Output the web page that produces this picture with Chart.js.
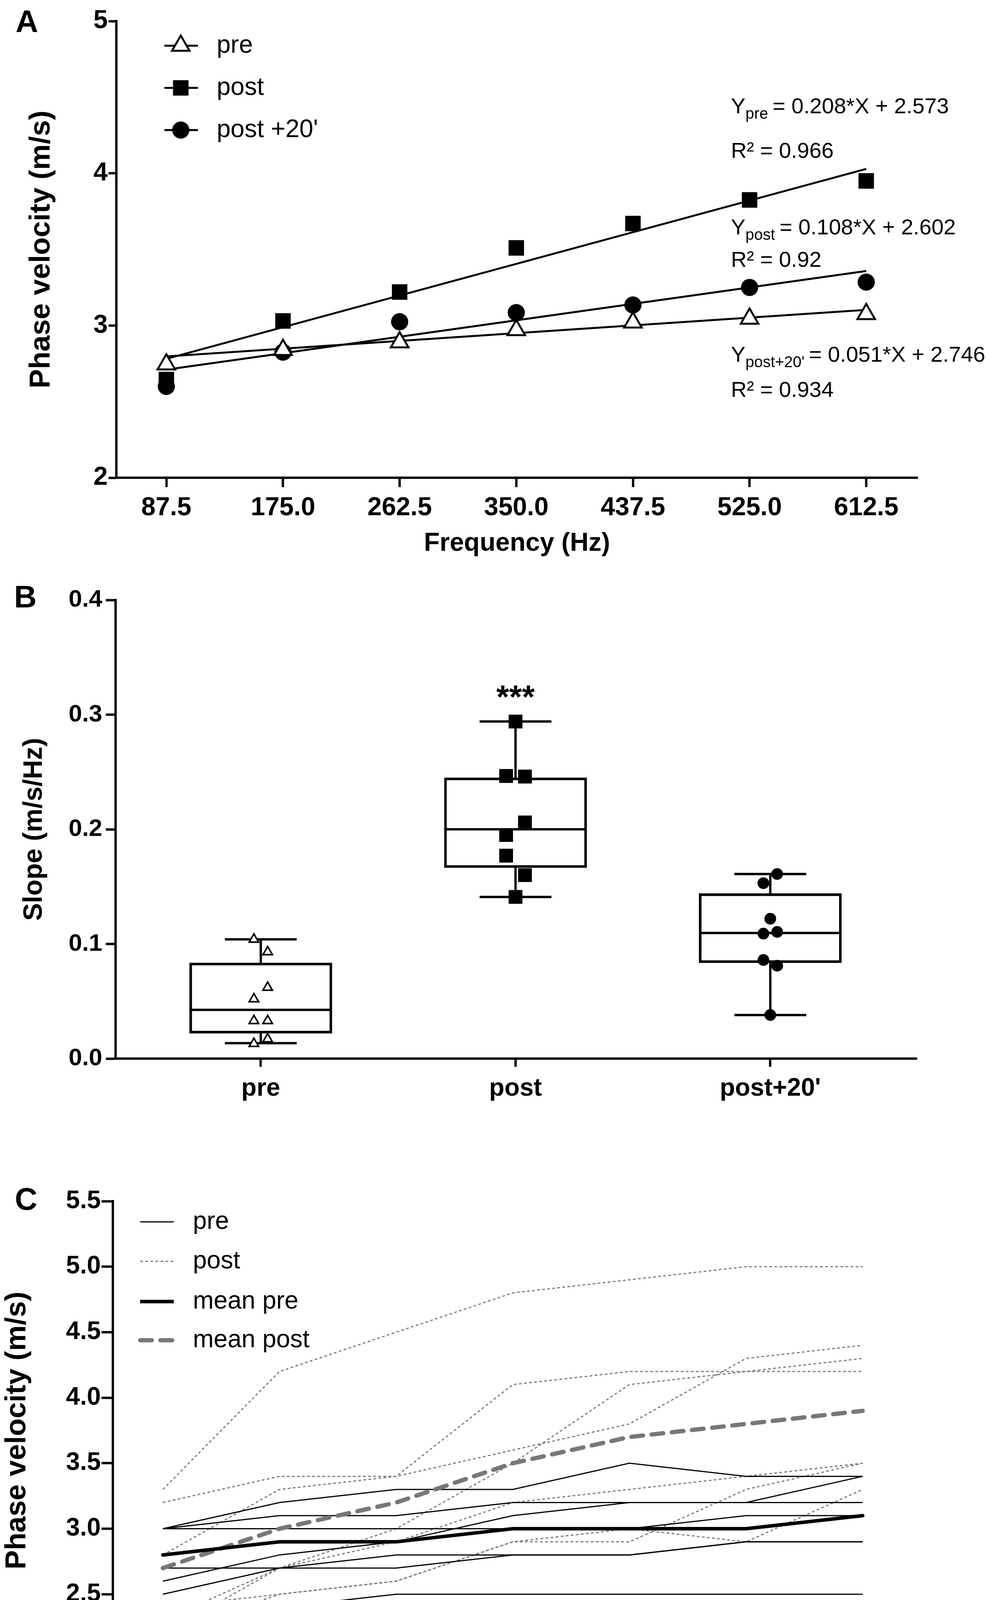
<!DOCTYPE html>
<html>
<head>
<meta charset="utf-8">
<script src="https://cdn.jsdelivr.net/npm/chart.js@4.4.1/dist/chart.umd.min.js"></script>
<style>
  body { margin: 0; background: #fff; width: 2533px; height: 4459px; position: relative; overflow: hidden; }
  canvas { position: absolute; left: 0; }
</style>
</head>
<body>
<canvas id="chartA" width="2533" height="1450" style="top:0px"></canvas>
<canvas id="chartB" width="2533" height="1450" style="top:1450px"></canvas>
<canvas id="chartC" width="2533" height="1559" style="top:2900px"></canvas>
<script>
// ---- panel A : phase velocity per group
const freqs = [87.5, 175, 262.5, 350, 437.5, 525, 612.5];
const phaseTicksA = [2, 3, 4, 5];
const prePhase = [2.745, 2.84, 2.89, 2.97, 3.02, 3.045, 3.075];
const postPhase = [2.645, 3.03, 3.22, 3.51, 3.67, 3.825, 3.95];
const post20Phase = [2.60, 2.825, 3.025, 3.085, 3.135, 3.25, 3.285];
const fitEnds = [87.5, 612.5];
const postFit = [2.781, 4.029];
const post20Fit = [2.71, 3.358];
const preFit = [2.797, 3.103];
const legendA = ['pre', 'post', "post +20'"];
const fitSubs = ['pre', 'post', "post+20'"];
const fitEquations = [' = 0.208*X + 2.573', ' = 0.108*X + 2.602', ' = 0.051*X + 2.746'];
const fitR2 = ['R\u00b2 = 0.966', 'R\u00b2 = 0.92', 'R\u00b2 = 0.934'];

// ---- panel B : slopes
const groups = ['pre', 'post', "post+20'"];
const slopeTicks = [0, 0.1, 0.2, 0.3, 0.4];
const preSlope = [0.104, 0.093, 0.062, 0.052, 0.033, 0.033, 0.017, 0.013];
const postSlope = [0.294, 0.2465, 0.246, 0.206, 0.195, 0.177, 0.160, 0.141];
const post20Slope = [0.161, 0.153, 0.122, 0.1105, 0.109, 0.086, 0.081, 0.038];
const boxMin = [0.0135, 0.141, 0.038];
const boxQ1 = [0.022, 0.1665, 0.0835];
const boxMedian = [0.0425, 0.2, 0.1095];
const boxQ3 = [0.0835, 0.245, 0.144];
const boxMax = [0.104, 0.294, 0.161];

// ---- panel C : individual curves
const phaseTicksC = [2.0, 2.5, 3.0, 3.5, 4.0, 4.5, 5.0, 5.5];
const preCurves = [
  [3.0, 3.2, 3.3, 3.3, 3.5, 3.4, 3.4],
  [3.0, 3.1, 3.1, 3.2, 3.2, 3.2, 3.2],
  [3.0, 3.0, 3.0, 3.0, 3.0, 3.1, 3.1],
  [2.7, 2.7, 2.7, 2.8, 2.8, 2.9, 2.9],
  [2.6, 2.8, 2.9, 3.1, 3.2, 3.2, 3.4],
  [2.5, 2.7, 2.8, 2.8, 2.8, 2.9, 2.9],
  [2.4, 2.4, 2.5, 2.5, 2.5, 2.5, 2.5]
];
const postCurves = [
  [3.3, 4.2, 4.5, 4.8, 4.9, 5.0, 5.0],
  [3.2, 3.4, 3.4, 4.1, 4.2, 4.2, 4.2],
  [2.8, 3.3, 3.4, 3.6, 3.8, 4.3, 4.4],
  [2.3, 2.7, 3.0, 3.5, 4.1, 4.2, 4.3],
  [2.2, 2.7, 2.9, 3.2, 3.3, 3.4, 3.5],
  [2.4, 2.5, 2.6, 2.9, 3.0, 2.9, 3.3],
  [2.2, 2.5, 2.6, 2.9, 2.9, 3.3, 3.5]
];
const meanPre = [2.8, 2.9, 2.9, 3.0, 3.0, 3.0, 3.1];
const meanPost = [2.7, 3.0, 3.2, 3.5, 3.7, 3.8, 3.9];
const legendC = ['pre', 'post', 'mean pre', 'mean post'];

const FONT = "'Liberation Sans', Arial, Helvetica, sans-serif";
const GREY = '#7a7a7a';
Chart.defaults.font.family = FONT;
Chart.defaults.color = '#000';

function pts(xs, ys) {
  return ys.map((y, i) => ({x: xs[i], y: y}));
}

function axis(o) {
  return {
    type: 'linear',
    min: o.min,
    max: o.max,
    offset: false,
    afterBuildTicks: s => { s.ticks = o.ticks.map(v => ({value: v})); },
    afterFit: s => {
      if (o.width) s.width = o.width;
      if (o.height) s.height = o.height;
    },
    grid: {display: true, offset: false, drawOnChartArea: false, drawTicks: true, tickLength: o.tickLength, tickWidth: 6, tickColor: '#000'},
    border: {display: true, width: 6, color: '#000'},
    ticks: {color: '#000', padding: o.pad, autoSkip: false, maxRotation: 0,
            font: {family: FONT, size: o.size, weight: 'bold'}, callback: o.fmt},
    title: o.title ? {display: true, text: o.title, color: '#000',
                      font: {family: FONT, size: o.titleSize, weight: 'bold'}, padding: o.titlePad}
                   : {display: false}
  };
}

function letter(ctx, t, x, y) {
  ctx.font = 'bold 80px ' + FONT;
  ctx.fillStyle = '#000';
  ctx.textAlign = 'center';
  ctx.textBaseline = 'middle';
  ctx.fillText(t, x, y);
}

function marker(ctx, style, x, y, r, fill, lw) {
  ctx.beginPath();
  if (style === 'triangle') {
    for (let k = 0; k < 3; k++) {
      const a = -Math.PI / 2 + k * 2 * Math.PI / 3;
      const px = x + Math.cos(a) * r, py = y + Math.sin(a) * r;
      if (k === 0) ctx.moveTo(px, py); else ctx.lineTo(px, py);
    }
    ctx.closePath();
  } else if (style === 'rect') {
    const h = r * Math.SQRT1_2;
    ctx.rect(x - h, y - h, 2 * h, 2 * h);
  } else {
    ctx.arc(x, y, r, 0, Math.PI * 2);
  }
  ctx.fillStyle = fill;
  ctx.fill();
  if (lw) { ctx.lineWidth = lw; ctx.strokeStyle = '#000'; ctx.stroke(); }
}

function seg(ctx, x1, y1, x2, y2) {
  ctx.beginPath();
  ctx.moveTo(x1, y1);
  ctx.lineTo(x2, y2);
  ctx.stroke();
}

const common = {
  responsive: false,
  animation: false,
  devicePixelRatio: 1,
  events: [],
  plugins: {legend: {display: false}, tooltip: {enabled: false}}
};

// ================= panel A
const markersA = [
  {style: 'triangle', r: 26, fill: '#fff', lw: 5},
  {style: 'rect', r: 28, fill: '#000', lw: 0},
  {style: 'circle', r: 22, fill: '#000', lw: 0}
];

const textA = {
  id: 'textA',
  afterDraw(chart) {
    const ctx = chart.ctx;
    ctx.save();
    letter(ctx, 'A', 69, 60);
    // legend
    const rows = [117, 225, 333];
    legendA.forEach((name, i) => {
      ctx.strokeStyle = '#000';
      ctx.lineWidth = 5;
      seg(ctx, 421, rows[i], 507, rows[i]);
      const m = markersA[i];
      marker(ctx, m.style, 463, rows[i], m.r, m.fill, m.lw);
      ctx.font = '64px ' + FONT;
      ctx.fillStyle = '#000';
      ctx.textAlign = 'left';
      ctx.textBaseline = 'middle';
      ctx.fillText(name, 555, rows[i]);
    });
    // regression equations
    const eqY = [275, 585, 911];
    const rY = [389, 668, 1001];
    const x0 = 1872;
    fitSubs.forEach((sub, i) => {
      ctx.textAlign = 'left';
      ctx.textBaseline = 'middle';
      ctx.font = '56px ' + FONT;
      ctx.fillText('Y', x0, eqY[i]);
      let x = x0 + ctx.measureText('Y').width;
      ctx.font = '40px ' + FONT;
      ctx.fillText(sub, x, eqY[i] + 18);
      x += ctx.measureText(sub).width;
      ctx.font = '56px ' + FONT;
      ctx.fillText(fitEquations[i], x - 4, eqY[i]);
      ctx.fillText(fitR2[i], x0, rY[i]);
    });
    ctx.restore();
  }
};

new Chart(document.getElementById('chartA'), {
  type: 'scatter',
  data: {
    datasets: [
      {label: 'pre', data: pts(freqs, prePhase), pointStyle: 'triangle', pointRadius: 26,
       pointBackgroundColor: '#fff', pointBorderColor: '#000', pointBorderWidth: 5},
      {label: 'post', data: pts(freqs, postPhase), pointStyle: 'rect', pointRadius: 28,
       pointBackgroundColor: '#000', pointBorderColor: '#000', pointBorderWidth: 0},
      {label: "post +20'", data: pts(freqs, post20Phase), pointStyle: 'circle', pointRadius: 22,
       pointBackgroundColor: '#000', pointBorderColor: '#000', pointBorderWidth: 0},
      {label: 'fit post', data: pts(fitEnds, postFit), showLine: true, pointRadius: 0, borderColor: '#000', borderWidth: 5},
      {label: 'fit post20', data: pts(fitEnds, post20Fit), showLine: true, pointRadius: 0, borderColor: '#000', borderWidth: 5},
      {label: 'fit pre', data: pts(fitEnds, preFit), showLine: true, pointRadius: 0, borderColor: '#000', borderWidth: 5}
    ]
  },
  options: Object.assign({}, common, {
    layout: {padding: {left: 0, right: 183, top: 54, bottom: 0}},
    scales: {
      x: axis({min: 50, max: 651, ticks: freqs, height: 227, tickLength: 24, pad: 14, size: 66,
               fmt: v => v.toFixed(1), title: 'Frequency (Hz)', titleSize: 66, titlePad: {top: 0, bottom: 19}}),
      y: axis({min: 2, max: 5, ticks: phaseTicksA, width: 298, tickLength: 20, pad: 2, size: 66,
               fmt: v => String(v), title: 'Phase velocity (m/s)', titleSize: 74, titlePad: {top: 62, bottom: 0}})
    }
  }),
  plugins: [textA]
});

// ================= panel B
const jitterSide = [[-1, 1, 1, -1, -1, 1, 1, -1], [0, -1, 1, 1, -1, -1, 1, 0], [1, -1, 0, 1, -1, -1, 1, 0]];
const jitterStep = [0.027, 0.037, 0.027];
function jittered(g, vals) {
  return vals.map((v, k) => ({x: g + jitterSide[g][k] * jitterStep[g], y: v}));
}

const boxParts = {
  id: 'boxParts',
  beforeDatasetsDraw(chart) {
    const ctx = chart.ctx, xs = chart.scales.x, ys = chart.scales.y;
    ctx.save();
    ctx.strokeStyle = '#000';
    ctx.lineWidth = 6;
    ctx.lineCap = 'butt';
    groups.forEach((g, i) => {
      const cx = xs.getPixelForValue(i);
      seg(ctx, cx, ys.getPixelForValue(boxQ3[i]), cx, ys.getPixelForValue(boxMax[i]));
      seg(ctx, cx, ys.getPixelForValue(boxQ1[i]), cx, ys.getPixelForValue(boxMin[i]));
      seg(ctx, cx - 92, ys.getPixelForValue(boxMax[i]), cx + 92, ys.getPixelForValue(boxMax[i]));
      seg(ctx, cx - 92, ys.getPixelForValue(boxMin[i]), cx + 92, ys.getPixelForValue(boxMin[i]));
      seg(ctx, cx - 182, ys.getPixelForValue(boxMedian[i]), cx + 182, ys.getPixelForValue(boxMedian[i]));
    });
    ctx.restore();
  },
  afterDraw(chart) {
    const ctx = chart.ctx;
    ctx.save();
    letter(ctx, 'B', 65, 83);
    ctx.font = 'bold 84px ' + FONT;
    ctx.textAlign = 'center';
    ctx.textBaseline = 'middle';
    ctx.fillText('***', chart.scales.x.getPixelForValue(1), 340);
    ctx.restore();
  }
};

new Chart(document.getElementById('chartB'), {
  type: 'scatter',
  data: {
    datasets: [
      {label: 'pre', data: jittered(0, preSlope), pointStyle: 'triangle', pointRadius: 14,
       pointBackgroundColor: '#fff', pointBorderColor: '#000', pointBorderWidth: 4},
      {label: 'post', data: jittered(1, postSlope), pointStyle: 'rect', pointRadius: 25,
       pointBackgroundColor: '#000', pointBorderColor: '#000', pointBorderWidth: 0},
      {label: "post+20'", data: jittered(2, post20Slope), pointStyle: 'circle', pointRadius: 15,
       pointBackgroundColor: '#000', pointBorderColor: '#000', pointBorderWidth: 0},
      {type: 'bar', label: 'box', data: groups.map((g, i) => ({x: i, y: [boxQ1[i], boxQ3[i]]})),
       barThickness: 365, borderWidth: 6, borderColor: '#000', backgroundColor: 'rgba(0,0,0,0)', borderSkipped: false}
    ]
  },
  options: Object.assign({}, common, {
    layout: {padding: {left: 0, right: 185, top: 86, bottom: 0}},
    scales: {
      x: axis({min: -0.57, max: 2.575, ticks: [0, 1, 2], height: 190, tickLength: 21, pad: 18, size: 64,
               fmt: v => groups[v]}),
      y: axis({min: 0, max: 0.4, ticks: slopeTicks, width: 296, tickLength: 25, pad: 9, size: 62,
               fmt: v => v.toFixed(1), title: 'Slope (m/s/Hz)', titleSize: 68, titlePad: {top: 47, bottom: 0}})
    }
  }),
  plugins: [boxParts]
});

// ================= panel C
const styleC = [
  {color: '#000', width: 3, dash: []},
  {color: GREY, width: 3, dash: [7, 6]},
  {color: '#000', width: 9, dash: []},
  {color: '#777', width: 11, dash: [30, 22]}
];

const textC = {
  id: 'textC',
  afterDraw(chart) {
    const ctx = chart.ctx;
    ctx.save();
    letter(ctx, 'C', 67, 175);
    const rows = [228, 329, 432, 531];
    legendC.forEach((name, i) => {
      const s = styleC[i];
      ctx.strokeStyle = s.color;
      ctx.lineWidth = s.width;
      ctx.setLineDash(s.dash);
      ctx.lineCap = i === 3 ? 'round' : 'butt';
      seg(ctx, 359, rows[i], 445, rows[i]);
      ctx.setLineDash([]);
      ctx.font = '64px ' + FONT;
      ctx.fillStyle = '#000';
      ctx.textAlign = 'left';
      ctx.textBaseline = 'middle';
      ctx.fillText(name, 494, rows[i]);
    });
    ctx.restore();
  }
};

function curve(vals, s, label) {
  return {label: label, data: pts(freqs, vals), showLine: true, pointRadius: 0, tension: 0,
          borderColor: s.color, borderWidth: s.width, borderDash: s.dash,
          borderCapStyle: s.width > 5 ? 'round' : 'butt'};
}

const datasetsC = [curve(meanPre, styleC[2], 'mean pre'), curve(meanPost, styleC[3], 'mean post')]
  .concat(preCurves.map((c, i) => curve(c, styleC[0], 'pre ' + (i + 1))))
  .concat(postCurves.map((c, i) => curve(c, styleC[1], 'post ' + (i + 1))));

new Chart(document.getElementById('chartC'), {
  type: 'scatter',
  data: {datasets: datasetsC},
  options: Object.assign({}, common, {
    layout: {padding: {left: 0, right: 192, top: 175, bottom: 0}},
    scales: {
      x: axis({min: 50, max: 651, ticks: freqs, height: 210, tickLength: 27, pad: 4, size: 64,
               fmt: v => v.toFixed(1), title: 'Frequency (Hz)', titleSize: 66, titlePad: {top: 0, bottom: 3}}),
      y: axis({min: 2, max: 5.5, ticks: phaseTicksC, width: 289, tickLength: 29, pad: 2, size: 64,
               fmt: v => v.toFixed(1), title: 'Phase velocity (m/s)', titleSize: 74, titlePad: {top: 0, bottom: 0}})
    }
  }),
  plugins: [textC]
});
</script>
</body>
</html>
